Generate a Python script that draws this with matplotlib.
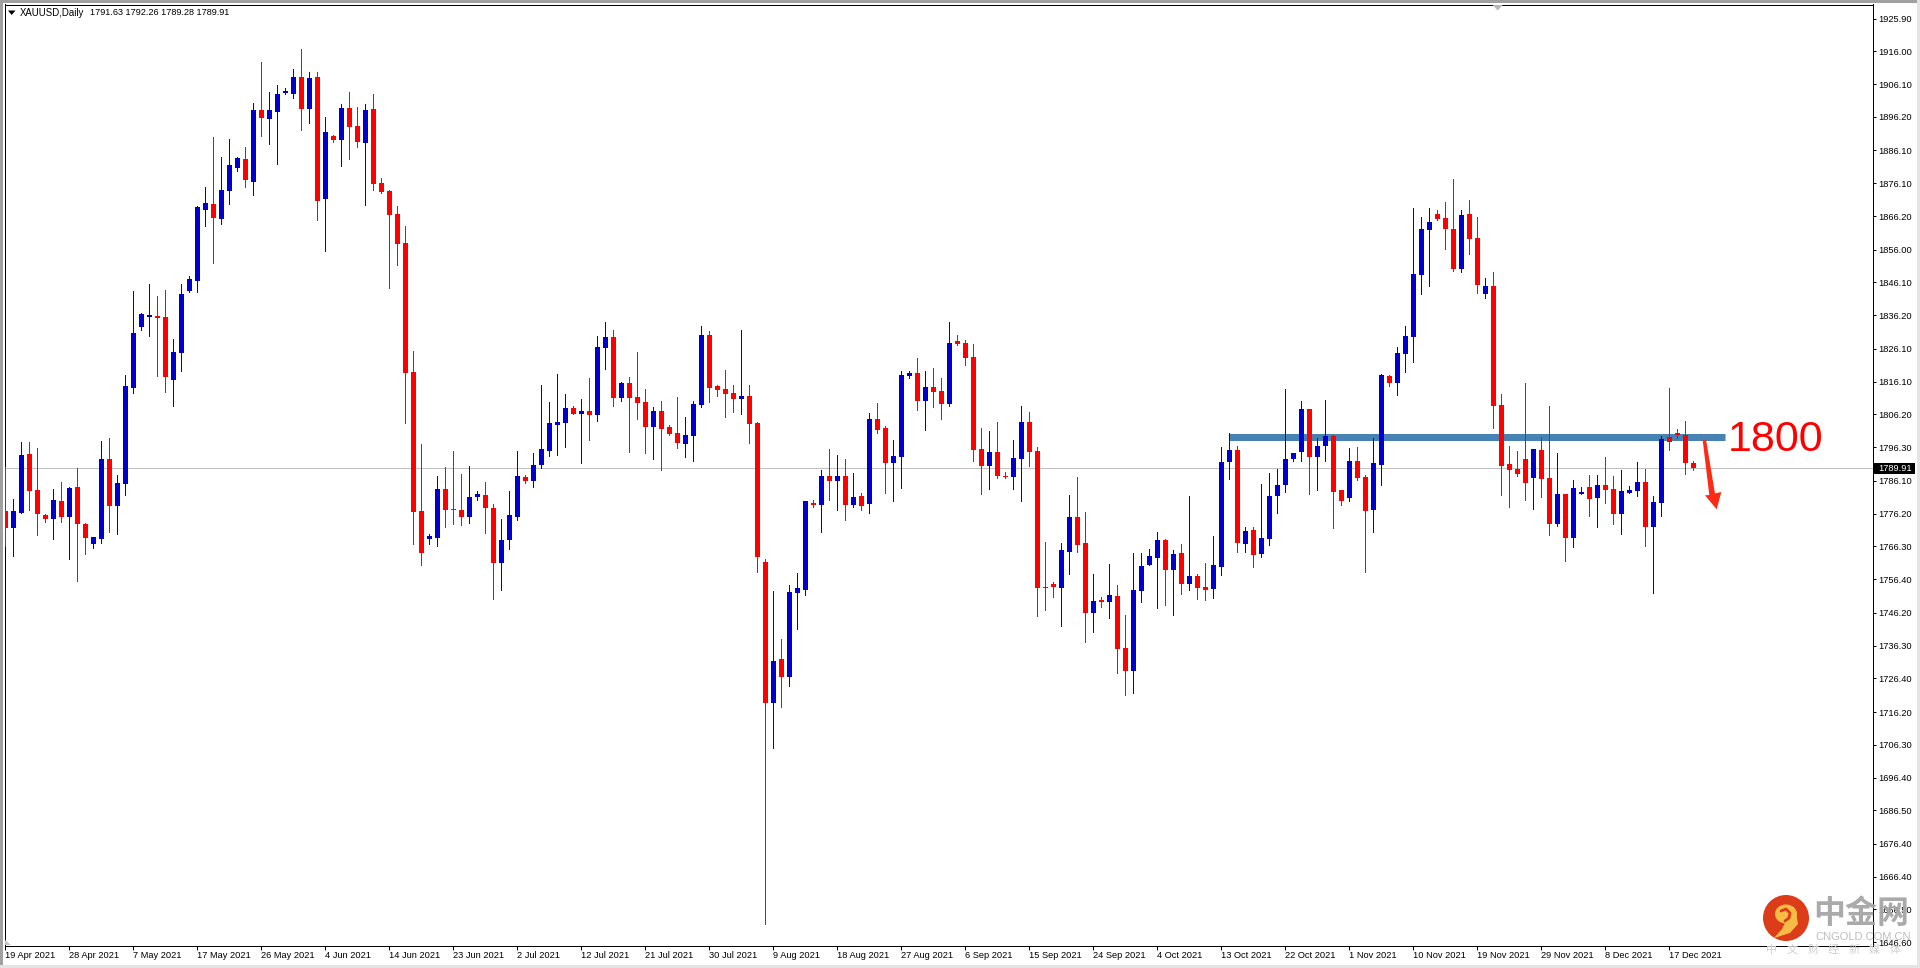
import matplotlib
matplotlib.use('Agg')
import matplotlib.pyplot as plt
from matplotlib.patches import Circle, Ellipse, Polygon, Rectangle
import numpy as np

plt.rcParams['font.family'] = ['Liberation Sans', 'DejaVu Sans']

opens = [
    1777.0,1771.9,1776.4,1794.2,1783.3,1775.8,1774.6,1780.0,1775.2,1784.3,
    1773.1,1767.0,1768.5,1792.7,1778.5,1785.2,1814.2,1832.6,1835.7,1836.0,
    1835.7,1816.6,1824.8,1843.5,1846.5,1868.0,1869.8,1865.3,1873.8,1880.7,
    1883.4,1876.5,1898.3,1895.5,1897.7,1903.4,1903.1,1908.2,1898.6,1908.2,
    1871.3,1890.4,1889.2,1898.9,1893.4,1888.3,1898.6,1876.2,1873.8,1866.8,
    1858.0,1819.0,1777.0,1768.5,1768.8,1783.6,1777.6,1777.3,1775.2,1781.2,
    1781.8,1777.9,1761.3,1768.2,1775.2,1787.3,1786.1,1790.9,1795.1,1803.0,
    1803.6,1808.1,1806.3,1807.2,1806.0,1826.3,1829.6,1811.2,1815.7,1811.5,
    1810.0,1802.4,1807.2,1802.4,1800.6,1797.3,1799.7,1809.0,1830.2,1814.8,
    1813.9,1812.7,1810.9,1811.8,1803.6,1761.6,1718.9,1732.2,1726.8,1752.2,
    1753.1,1779.4,1778.8,1787.6,1786.1,1787.6,1778.8,1781.5,1779.1,1804.8,
    1802.1,1791.5,1793.3,1817.8,1818.7,1810.3,1814.5,1813.3,1809.3,1828.4,
    1827.8,1823.6,1795.7,1790.6,1794.8,1787.6,1787.3,1792.7,1803.9,1795.1,
    1754.0,1754.9,1753.7,1764.6,1775.2,1767.3,1746.1,1750.1,1749.5,1751.3,
    1735.6,1728.6,1752.8,1760.7,1762.8,1768.2,1759.2,1764.3,1754.9,1757.3,
    1754.0,1753.4,1760.1,1791.8,1795.4,1767.0,1771.3,1764.0,1768.5,1781.5,
    1784.9,1792.7,1794.8,1807.8,1793.3,1796.6,1799.7,1783.3,1780.9,1792.1,
    1787.3,1777.3,1790.9,1817.8,1815.7,1824.5,1829.6,1848.4,1862.0,1866.8,
    1865.6,1862.3,1850.2,1866.8,1859.5,1842.6,1845.0,1809.0,1791.2,1789.7,
    1792.7,1787.0,1795.4,1787.0,1773.1,1782.1,1768.8,1782.1,1784.3,1780.9,
    1784.9,1783.6,1776.1,1782.4,1783.0,1785.8,1772.2,1779.4,1799.4,1800.6,1800.0,1791.63]

highs = [
    1790.4,1780.6,1797.9,1797.9,1796.0,1776.1,1783.6,1785.8,1784.3,1790.0,
    1773.4,1769.1,1798.2,1799.1,1787.9,1818.1,1843.5,1836.9,1845.6,1842.0,
    1843.8,1829.0,1845.6,1848.1,1869.2,1875.0,1890.1,1884.0,1889.5,1884.0,
    1887.1,1900.4,1912.8,1903.7,1905.8,1904.9,1910.7,1916.7,1909.7,1909.7,
    1896.1,1890.7,1900.1,1903.7,1899.2,1900.1,1903.1,1877.7,1874.1,1869.2,
    1863.2,1825.4,1797.3,1770.0,1787.6,1790.3,1795.1,1788.2,1790.6,1783.0,
    1785.8,1779.1,1774.6,1783.0,1795.1,1787.9,1794.5,1815.1,1810.0,1818.4,
    1812.4,1808.7,1810.9,1817.2,1829.9,1834.1,1831.7,1816.0,1817.5,1825.1,
    1813.9,1808.4,1810.3,1803.0,1811.5,1805.4,1810.3,1832.9,1831.4,1815.1,
    1819.6,1815.1,1831.7,1815.1,1803.9,1762.5,1752.8,1738.3,1754.6,1758.2,
    1780.0,1780.3,1789.4,1795.7,1793.9,1792.7,1788.5,1782.4,1806.6,1809.7,
    1802.7,1798.5,1819.3,1819.3,1823.3,1819.3,1820.2,1817.2,1834.1,1830.2,
    1828.7,1827.5,1802.1,1801.2,1803.9,1788.8,1798.5,1808.7,1806.9,1796.3,
    1767.6,1755.5,1767.3,1781.8,1787.3,1776.7,1757.9,1751.0,1761.0,1754.6,
    1745.5,1764.3,1764.3,1765.5,1770.6,1768.5,1765.2,1767.0,1781.5,1757.9,
    1761.3,1769.4,1796.3,1800.6,1796.6,1772.2,1772.2,1785.2,1788.5,1789.7,
    1813.9,1794.5,1810.3,1807.8,1799.1,1810.6,1800.0,1783.3,1796.0,1796.3,
    1787.9,1799.1,1818.4,1818.1,1826.6,1832.9,1868.6,1865.9,1868.6,1868.0,
    1870.4,1877.4,1868.0,1871.0,1865.9,1847.5,1849.3,1812.4,1796.6,1795.1,
    1815.7,1795.7,1799.4,1808.7,1794.5,1782.1,1786.4,1784.3,1787.9,1787.9,
    1793.3,1787.6,1789.4,1784.5,1791.8,1789.7,1781.5,1799.7,1814.2,1801.8,1804.2,1792.26]

lows = [
    1766.4,1763.4,1776.4,1777.3,1769.7,1773.7,1768.5,1773.7,1762.5,1755.8,
    1764.0,1765.8,1767.3,1770.6,1770.0,1781.8,1812.7,1831.7,1829.9,1817.8,
    1813.0,1808.7,1819.3,1843.2,1843.2,1863.2,1852.0,1863.8,1869.8,1879.8,
    1875.0,1872.6,1890.4,1888.0,1881.9,1903.1,1901.9,1892.2,1894.3,1865.0,
    1855.6,1888.6,1881.3,1883.4,1887.1,1869.5,1874.1,1873.2,1844.4,1851.4,
    1803.6,1767.0,1760.7,1767.0,1766.4,1772.2,1773.1,1772.8,1773.4,1780.3,
    1770.3,1750.4,1753.1,1765.5,1774.3,1785.5,1784.3,1790.0,1793.6,1793.9,
    1796.3,1806.3,1791.5,1798.5,1804.2,1819.9,1808.7,1810.3,1794.8,1804.8,
    1794.5,1792.7,1789.4,1800.0,1796.0,1793.3,1792.1,1808.4,1810.0,1811.8,
    1805.4,1806.9,1806.3,1797.6,1758.5,1652.1,1705.3,1717.7,1724.1,1741.3,
    1751.6,1778.2,1770.6,1780.3,1777.3,1774.3,1778.2,1777.3,1776.4,1800.6,
    1782.4,1780.0,1784.0,1817.2,1807.5,1801.5,1808.4,1804.8,1808.7,1827.2,
    1821.1,1792.1,1782.1,1783.6,1787.0,1787.0,1783.6,1780.0,1790.6,1745.2,
    1747.1,1751.0,1742.2,1757.9,1764.6,1737.4,1740.4,1748.0,1744.6,1728.0,
    1721.4,1722.0,1749.5,1760.7,1747.7,1748.6,1745.5,1751.9,1753.1,1750.4,
    1750.1,1750.7,1757.6,1786.7,1764.6,1764.6,1760.1,1763.1,1766.7,1776.4,
    1782.7,1792.1,1792.1,1782.1,1783.3,1792.1,1771.9,1778.8,1780.0,1786.4,
    1758.5,1770.6,1784.9,1814.8,1812.1,1819.0,1822.1,1842.6,1845.0,1865.0,
    1856.2,1849.6,1849.3,1854.7,1842.9,1841.4,1802.1,1781.8,1778.2,1787.6,
    1780.3,1777.6,1781.2,1769.7,1772.5,1761.9,1766.1,1782.1,1775.5,1772.2,
    1779.4,1773.1,1770.0,1782.4,1781.5,1766.4,1752.2,1775.5,1795.4,1799.1,1788.2,1789.28]

closes = [
    1771.9,1777.0,1793.9,1783.0,1776.1,1774.6,1780.3,1775.2,1784.0,1773.1,
    1768.8,1769.1,1792.7,1778.5,1785.5,1814.8,1830.8,1836.6,1836.3,1835.4,
    1817.5,1825.1,1842.6,1847.2,1868.9,1870.1,1865.6,1874.1,1881.6,1883.7,
    1877.1,1898.3,1895.8,1898.3,1903.1,1904.0,1908.2,1898.6,1907.9,1870.7,
    1891.6,1889.2,1898.9,1893.1,1888.6,1898.3,1875.9,1873.5,1866.5,1857.7,
    1818.7,1776.7,1764.3,1769.4,1783.6,1777.3,1777.3,1775.2,1781.2,1782.1,
    1777.9,1761.3,1768.2,1775.8,1787.6,1786.1,1790.9,1795.7,1803.6,1803.9,
    1808.1,1806.3,1807.2,1806.0,1826.6,1829.6,1811.2,1815.7,1811.2,1809.7,
    1802.4,1807.2,1801.8,1800.3,1797.6,1800.0,1809.3,1830.2,1814.2,1813.6,
    1812.4,1810.9,1811.8,1803.3,1763.1,1718.9,1731.6,1726.8,1752.5,1753.7,
    1780.0,1778.8,1787.6,1786.1,1787.6,1778.8,1781.2,1778.5,1804.8,1801.5,
    1791.5,1793.6,1818.1,1818.7,1810.3,1814.5,1813.0,1809.3,1827.8,1827.5,
    1823.3,1795.4,1790.6,1794.8,1787.6,1787.3,1793.0,1803.9,1794.8,1753.7,
    1753.7,1754.0,1765.2,1775.2,1766.7,1746.1,1749.8,1749.5,1751.6,1735.3,
    1728.6,1753.1,1760.4,1763.4,1768.2,1759.2,1764.0,1754.9,1757.3,1753.7,
    1753.1,1760.7,1791.8,1795.4,1767.3,1771.0,1763.7,1768.8,1781.5,1784.9,
    1792.7,1794.5,1807.8,1793.3,1796.6,1799.7,1782.7,1780.0,1792.1,1787.0,
    1777.0,1791.5,1818.1,1815.7,1824.8,1829.9,1848.7,1862.3,1864.4,1865.3,
    1862.3,1850.2,1866.5,1859.2,1845.3,1845.0,1808.7,1790.6,1789.4,1788.2,
    1785.5,1795.7,1786.7,1773.1,1782.1,1768.8,1784.0,1782.7,1780.6,1784.9,
    1783.3,1776.1,1783.0,1783.3,1785.8,1772.2,1779.7,1798.8,1797.9,1800.0,1791.5,1789.91]

date_labels = ['19 Apr 2021', '28 Apr 2021', '7 May 2021', '17 May 2021', '26 May 2021',
               '4 Jun 2021', '14 Jun 2021', '23 Jun 2021', '2 Jul 2021', '12 Jul 2021',
               '21 Jul 2021', '30 Jul 2021', '9 Aug 2021', '18 Aug 2021', '27 Aug 2021',
               '6 Sep 2021', '15 Sep 2021', '24 Sep 2021', '4 Oct 2021', '13 Oct 2021',
               '22 Oct 2021', '1 Nov 2021', '10 Nov 2021', '19 Nov 2021', '29 Nov 2021',
               '8 Dec 2021', '17 Dec 2021']
price_ticks = [1925.90, 1916.00, 1906.10, 1896.20, 1886.10, 1876.10, 1866.20, 1856.00,
               1846.10, 1836.20, 1826.10, 1816.10, 1806.20, 1796.30, 1786.10, 1776.20,
               1766.30, 1756.40, 1746.20, 1736.30, 1726.40, 1716.20, 1706.30, 1696.40,
               1686.50, 1676.40, 1666.40, 1656.50, 1646.60]
level = 1800
last_price = 1789.91

BLUE = '#0000CD'
RED = '#FF0000'
W, H = 1920, 968
PX = 0.72  # one pixel in points at dpi 100

fig = plt.figure(figsize=(W / 100, H / 100), dpi=100, facecolor='white')
ax = fig.add_axes([4.5 / W, 1 - 945.5 / H, 1868 / W, 941 / H])

o = np.array(opens)
h = np.array(highs)
l = np.array(lows)
c = np.array(closes)
x = np.arange(len(o))
colors = [BLUE if cc >= oo else RED for oo, cc in zip(o, c)]

# price line and the 1800 band sit under the candles
ax.axhline(last_price, color='#C0C0C0', lw=PX, zorder=1)
ax.plot([152.96, 214.97], [1799.5, 1799.5], color='#4682B4', lw=7 * PX,
        solid_capstyle='butt', zorder=2)

ax.vlines(x, l, h, colors=colors, linewidth=PX, antialiased=False, zorder=3)
ax.bar(x, np.abs(c - o), bottom=np.minimum(o, c), width=0.625, color=colors,
       linewidth=0, antialiased=False, zorder=4)

ax.set_xlim(-0.1, 233.4)
ax.set_ylim(1645.6, 1930.16)

ax.set_xticks(x[::8])
ax.set_xticklabels(date_labels, fontsize=6.7, ha='left')
ax.set_yticks(price_ticks)
ax.set_yticklabels(['%.2f' % p for p in price_ticks], fontsize=6.7)
ax.yaxis.tick_right()
ax.tick_params(axis='x', length=3, width=PX, pad=1.0, color='black')
ax.tick_params(axis='y', length=2.2, width=PX, pad=1.7, color='black')
for s in ax.spines.values():
    s.set_linewidth(PX)
    s.set_color('black')

# red arrow under the band
arrow = [(212.17, 1798.46), (212.6, 1798.46), (213.71, 1782.3), (214.5, 1782.74),
         (213.92, 1777.5), (212.46, 1781.74), (213.0, 1781.83)]
ax.add_patch(Polygon(arrow, closed=True, fc='#FF2A14', ec='none', zorder=5))
ax.text(215.3, 1795.1, str(level), color=RED, fontsize=31, va='baseline', ha='left',
        family=['Liberation Sans'], zorder=6)

# overlay in pixel coords for window frame, header and watermark
ov = fig.add_axes([0, 0, 1, 1])
ov.set_xlim(0, W)
ov.set_ylim(H, 0)
ov.axis('off')
ov.patch.set_alpha(0)

ov.add_patch(Rectangle((0, 0), W, 2.5, fc='#A0A0A0', ec='none'))
ov.add_patch(Rectangle((0, 0), 2.5, H, fc='#A0A0A0', ec='none'))
ov.add_patch(Rectangle((1916.5, 0), 3.5, H, fc='#E4E4E4', ec='none'))
ov.add_patch(Rectangle((0, 965), W, 3, fc='#E4E4E4', ec='none'))

ov.add_patch(Polygon([(8, 10.5), (15.5, 10.5), (11.7, 15)], fc='black', ec='none'))
ov.text(19.7, 12.5, 'XAUUSD,Daily', fontsize=6.9, va='center', ha='left', color='black')
ov.text(90.3, 12.5, '1791.63 1792.26 1789.28 1789.91', fontsize=6.6, va='center', ha='left', color='black')
ov.add_patch(Polygon([(1492.7, 5), (1502.7, 5), (1497.7, 10.5)], fc='#B8B8B8', ec='none'))
ov.add_patch(Polygon([(5, 940), (5, 945), (10.5, 945)], fc='#C0C0C0', ec='none'))

ov.add_patch(Rectangle((1874, 463), 41, 11, fc='black', ec='none'))
ov.text(1878.7, 468.6, '%.2f' % last_price, fontsize=6.7, va='center', ha='left', color='white')

# watermark logo
ov.add_patch(Circle((1786, 918), 23, fc='#DC3C1A', ec='none'))
ov.add_patch(Ellipse((1786, 914), 22, 19, fc='#F6BC45', ec='none'))
ov.add_patch(Polygon([(1796, 912), (1798, 924), (1790, 933), (1774, 938), (1782, 929), (1786, 921)],
                     fc='#F6BC45', ec='none'))
ov.plot([1781, 1786, 1790, 1789, 1785], [911, 909, 913, 918, 921], color='#DC3C1A', lw=2,
        solid_capstyle='round')
ov.text(1813, 914, '中金网', family=['Noto Sans CJK SC'], weight='bold', fontsize=23,
        color='#A6A6A6', alpha=0.95, va='center', ha='left')
ov.text(1815, 936.7, 'CNGOLD.COM.CN', fontsize=8, color='#BDBDBD', va='center', ha='left')
for k, ch in enumerate('中文财经新媒体'):
    ov.text(1772 + 20.5 * k, 950, ch, family=['Noto Sans CJK SC'], fontsize=8, color='#CFCFCF',
            va='center', ha='center')

fig.savefig('out.png', dpi=100, facecolor='white')
